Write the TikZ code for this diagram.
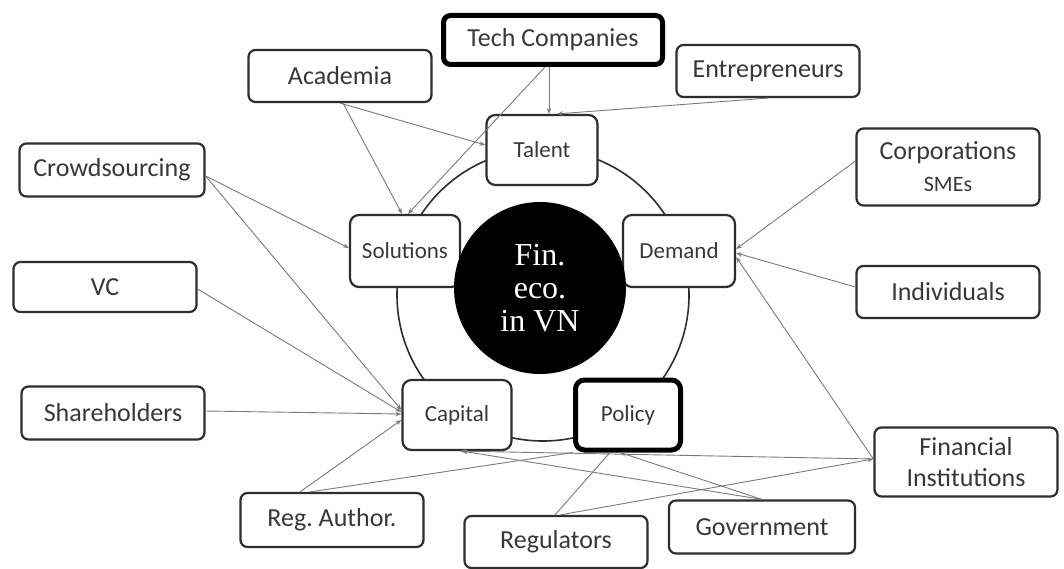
\documentclass[tikz,border=0pt]{standalone}
\usepackage{fontspec}
\setmainfont{Carlito}
\newfontfamily\centerfont{Liberation Serif}
\usetikzlibrary{arrows.meta,calc}
\definecolor{boxline}{HTML}{2E2E2E}
\definecolor{txt}{HTML}{383838}
\definecolor{conn}{HTML}{7A7A7A}
\frenchspacing
\begin{document}
\begin{tikzpicture}[x=1pt,y=-1pt,
  outerbox/.style={draw=boxline,line width=2.2pt,rounded corners=7pt,fill=white,text=txt,
    font=\fontsize{26}{29}\selectfont,inner sep=0pt,align=center},
  innerbox/.style={draw=boxline,line width=2.2pt,rounded corners=9pt,fill=white,text=txt,
    font=\fontsize{23}{26}\selectfont,inner sep=0pt,align=center},
  heavy/.style={draw=black,line width=5pt},
  link/.style={draw=conn,line width=0.9pt,-{Stealth[length=6pt,width=4.5pt]}},
  plain/.style={draw=conn,line width=0.9pt}
]
\useasboundingbox (0,0) rectangle (1064,569);
\fill[white] (0,0) rectangle (1064,569);

% ring
\draw[boxline,line width=1.6pt] (543,295) circle[radius=146pt];

% outer boxes
\node[outerbox,heavy,minimum width=219pt,minimum height=49pt] (tech) at (553,40) {Tech Companies};
\node[outerbox,minimum width=183pt,minimum height=52pt] (acad) at (340,76) {Academia};
\node[outerbox,minimum width=183pt,minimum height=52pt] (entre) at (768,71) {Entrepreneurs};
\node[outerbox,minimum width=185pt,minimum height=53pt] (crowd) at (112,170) {Crowdsourcing};
\node[outerbox,minimum width=183pt,minimum height=77pt] (corp) at (948,167) {Corporations\\[3pt]{\fontsize{22}{24}\selectfont SMEs}};
\node[outerbox,minimum width=183pt,minimum height=50pt] (vc) at (105,287) {VC};
\node[outerbox,minimum width=183pt,minimum height=52pt] (indiv) at (948,292) {Individuals};
\node[outerbox,minimum width=183pt,minimum height=53pt] (share) at (113,413) {Shareholders};
\node[outerbox,minimum width=183pt,minimum height=69pt] (fin) at (966,462) {Financial\\[2pt]Institutions};
\node[outerbox,minimum width=183pt,minimum height=54pt] (regauth) at (332,520) {Reg. Author.};
\node[outerbox,minimum width=183pt,minimum height=52pt] (regul) at (556,542) {Regulators};
\node[outerbox,minimum width=186pt,minimum height=53pt] (gov) at (762,527) {Government};

% inner boxes
\node[innerbox,minimum width=111pt,minimum height=70pt] (talent) at (542,150) {Talent};
\node[innerbox,minimum width=110pt,minimum height=72pt] (solutions) at (405,251) {Solutions};
\node[innerbox,minimum width=112pt,minimum height=72pt] (demand) at (679,251) {Demand};
\node[innerbox,minimum width=109pt,minimum height=70pt] (capital) at (457,415) {Capital};
\node[innerbox,heavy,minimum width=105pt,minimum height=70pt] (policy) at (628,415) {Policy};

% centre
\node[circle,fill=black,minimum size=172pt,inner sep=0pt,text=white,align=center,
  font=\centerfont\fontsize{32}{33}\selectfont] (core) at (540,288) {Fin.\\eco.\\in VN};

% connectors
\draw[link] ([xshift=-4pt]tech.south) -- ([xshift=7pt]talent.north);
\draw[link] ([xshift=-8pt]tech.south) -- ([xshift=3pt]solutions.north);
\draw[link] (entre.south) -- ([xshift=15pt]talent.north);
\draw[link] (acad.south) -- ([yshift=5pt]talent.west);
\draw[link] ([xshift=3pt]acad.south) -- ([xshift=-3pt]solutions.north);
\draw[link] ([yshift=-6pt]crowd.east) -- ([yshift=3pt]solutions.west);
\draw[link] ([yshift=-6pt]crowd.east) -- ([yshift=5pt]capital.west);
\draw[link] ([yshift=-2pt]vc.east) -- ([yshift=3pt]capital.west);
\draw[link] ([yshift=2pt]share.east) -- ([yshift=1pt]capital.west);
\draw[link] ([xshift=-32pt]regauth.north) -- ([yshift=-5pt]capital.west);
\draw[plain] ([xshift=-22pt]regauth.north) -- (policy.south west);
\draw[link] (gov.north) -- ([xshift=5pt]capital.south);
\draw[link] ([yshift=3pt]fin.west) -- ([xshift=3pt]capital.south);
\draw[link] (gov.north) -- ([xshift=-8pt]policy.south);
\draw[plain] ([xshift=-1pt]regul.north) -- ([xshift=-18pt]policy.south);
\draw[link] ([xshift=4pt]regul.north) -- ([yshift=3pt]fin.west);
\draw[link] ([yshift=3pt]fin.west) -- ([yshift=-6pt]demand.east);
\draw[link] ([yshift=6pt]corp.west) -- ([yshift=2pt]demand.east);
\draw[link] ([yshift=5pt]indiv.west) -- ([yshift=-2pt]demand.east);
\end{tikzpicture}
\end{document}
